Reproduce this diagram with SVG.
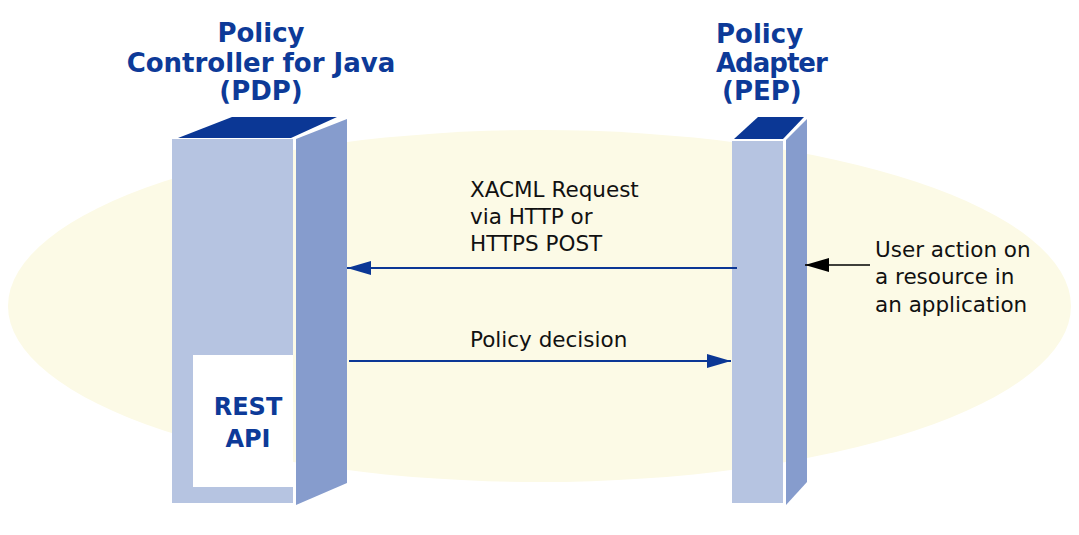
<svg xmlns="http://www.w3.org/2000/svg" width="1079" height="535" viewBox="0 0 1079 535">
<style>
.front{fill:#b6c4e1}
.side{fill:#869ccd}
.top{fill:#0b3795}
.title{font-family:"DejaVu Sans",Verdana,sans-serif;font-weight:bold;font-size:26px;fill:#0d3a98}
.api{font-family:"DejaVu Sans",Verdana,sans-serif;font-weight:bold;font-size:24px;fill:#0d3a98}
.lbl{font-family:"DejaVu Sans",Verdana,sans-serif;font-size:21.5px;fill:#111}
.conn{stroke:#0b3795;stroke-width:2;fill:none}
</style>
<defs>
<marker id="ab" markerUnits="userSpaceOnUse" markerWidth="24" markerHeight="14" refX="24" refY="7" orient="auto">
<path d="M0,0 L24,7 L0,14 z" fill="#0b3795"/>
</marker>
<marker id="ak" markerUnits="userSpaceOnUse" markerWidth="24" markerHeight="14" refX="24" refY="7" orient="auto">
<path d="M0,0 L24,7 L0,14 z" fill="#000"/>
</marker>
</defs>
<rect width="1079" height="535" fill="#fff"/>
<ellipse cx="539.5" cy="306" rx="531.5" ry="176" fill="#fcfae6"/>

<g id="pdp">
<polygon class="top" points="178,138 232,117 337,117 291,138"/>
<rect class="front" x="172" y="139" width="121" height="364"/>
<polygon class="side" points="296,139 347,119 347,483 296,505"/>
<rect x="193" y="355" width="100" height="132" fill="#fff"/>
<text class="api" x="248" y="415" text-anchor="middle">REST</text>
<text class="api" x="248" y="447" text-anchor="middle">API</text>
<text class="title" x="261" y="42" text-anchor="middle">Policy</text>
<text class="title" x="261" y="72" text-anchor="middle">Controller for Java</text>
<text class="title" x="261" y="100" text-anchor="middle">(PDP)</text>
</g>

<g id="pep">
<polygon class="top" points="734,139 758,117 804,117 783,139"/>
<rect class="front" x="732" y="141" width="51" height="362"/>
<polygon class="side" points="786,140 807,119 807,482 786,505"/>
<text class="title" x="716" y="43">Policy</text>
<text class="title" x="716" y="72" letter-spacing="-1">Adapter</text>
<text class="title" x="722" y="100">(PEP)</text>
</g>

<g id="connectors">
<line class="conn" x1="737" y1="268" x2="347" y2="268" marker-end="url(#ab)"/>
<line class="conn" x1="349" y1="361" x2="731" y2="361" marker-end="url(#ab)"/>
<line x1="870" y1="265" x2="805" y2="265" stroke="#000" stroke-width="1.3" marker-end="url(#ak)"/>
</g>

<g id="labels">
<text class="lbl" x="470" y="197">XACML Request</text>
<text class="lbl" x="470" y="224">via HTTP or</text>
<text class="lbl" x="470" y="251">HTTPS POST</text>
<text class="lbl" x="470" y="347">Policy decision</text>
<text class="lbl" x="875" y="257">User action on</text>
<text class="lbl" x="875" y="284">a resource in</text>
<text class="lbl" x="875" y="312">an application</text>
</g>
</svg>
